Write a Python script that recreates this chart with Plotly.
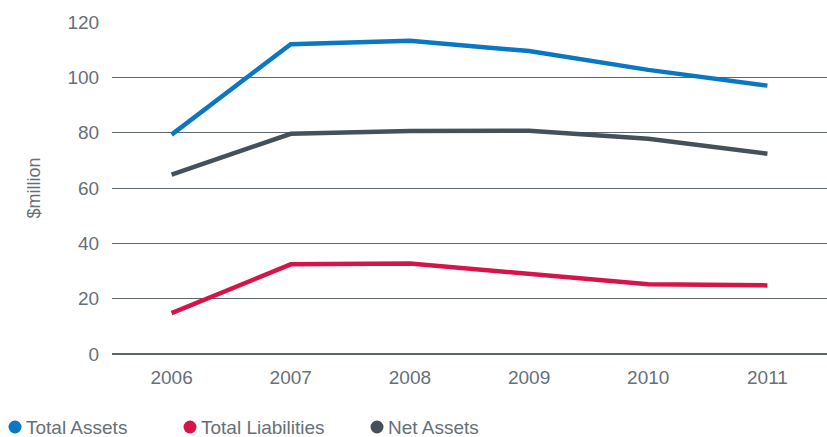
import plotly.graph_objects as go

years = ["2006", "2007", "2008", "2009", "2010", "2011"]
total_assets = [79.3, 112.0, 113.2, 109.5, 102.7, 97.0]
total_liabilities = [14.8, 32.4, 32.7, 29.0, 25.2, 24.8]
net_assets = [64.8, 79.6, 80.6, 80.7, 77.8, 72.4]

names = ["Total Assets", "Total Liabilities", "Net Assets"]
colors = ["#0a77c2", "#d6144a", "#44505a"]
series = [total_assets, total_liabilities, net_assets]
legend_marker_px = [15, 190, 377]

W, H = 827, 437
L, T, B = 112, 22, 83
PW, PH = W - L, H - T - B
txt = "#66707a"

fig = go.Figure()
for name, color, vals in zip(names, colors, series):
    fig.add_trace(go.Scatter(x=years, y=vals, mode="lines", name=name,
                             line=dict(color=color, width=4.5), showlegend=False))

ly = (H - B - 427) / PH
for name, color, mx in zip(names, colors, legend_marker_px):
    xp = (mx - L) / PW
    fig.add_shape(type="circle", xref="paper", yref="paper",
                  xsizemode="pixel", ysizemode="pixel", xanchor=xp, yanchor=ly,
                  x0=-6.5, x1=6.5, y0=-6.5, y1=6.5,
                  fillcolor=color, line=dict(width=0))
    fig.add_annotation(
        text=name, xref="paper", yref="paper", x=(mx + 9 - L) / PW, y=ly,
        xanchor="left", yanchor="middle", showarrow=False,
        font=dict(family="Liberation Sans", size=19, color=txt),
    )

fig.update_layout(
    width=W, height=H,
    margin=dict(l=L, r=0, t=T, b=B, autoexpand=False),
    paper_bgcolor="white", plot_bgcolor="white",
    showlegend=False,
    font=dict(family="Liberation Sans", size=19, color=txt),
    xaxis=dict(type="category", range=[-0.5, 5.5], showgrid=False, zeroline=False,
               ticks="outside", ticklen=6, tickcolor="rgba(0,0,0,0)",
               tickfont=dict(size=19, color=txt)),
    yaxis=dict(range=[0, 120], dtick=20, showgrid=True, gridcolor="#5d6670", gridwidth=1.3,
               zeroline=True, zerolinecolor="#5d6670", zerolinewidth=2.2,
               ticks="outside", ticklen=8, tickcolor="rgba(0,0,0,0)",
               tickfont=dict(size=19, color=txt),
               title=dict(text="$million", standoff=22, font=dict(size=18, color=txt))),
)

fig.write_html("out.html", config={"displayModeBar": False},
               post_script="document.body.style.margin='0';document.body.style.overflow='hidden';")
